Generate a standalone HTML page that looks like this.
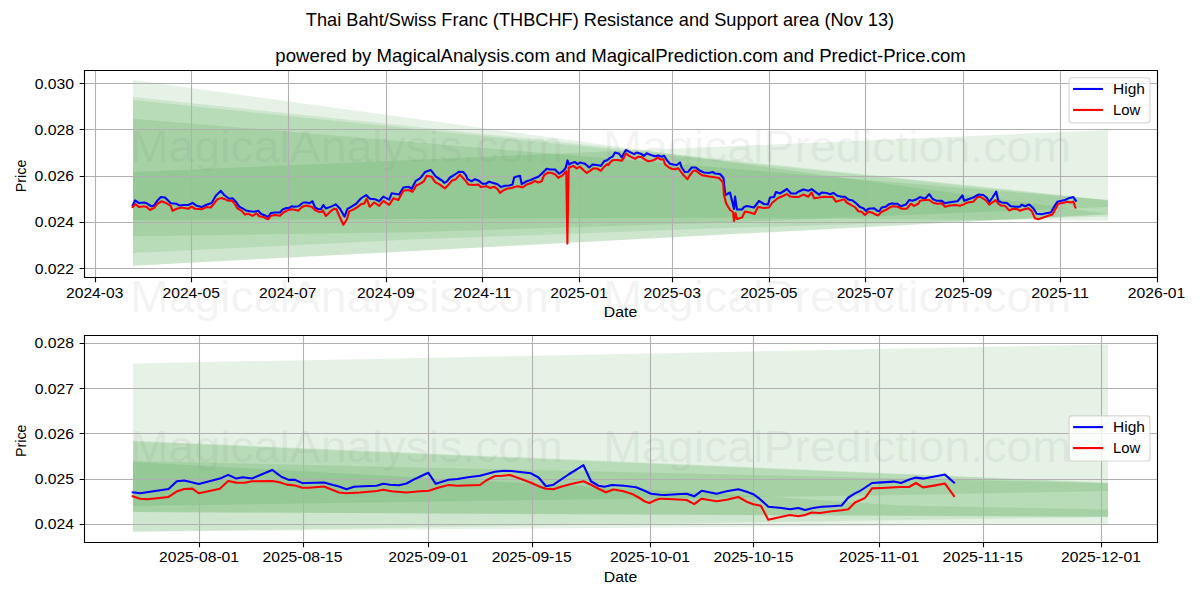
<!DOCTYPE html>
<html><head><meta charset="utf-8"><title>THBCHF Resistance and Support</title><style>html,body{margin:0;padding:0;background:#fff;overflow:hidden}svg{display:block}</style></head><body>
<svg width="1200" height="600" viewBox="0 0 1200 600">
<rect width="1200" height="600" fill="#ffffff"/>
<g font-family="&quot;Liberation Sans&quot;, sans-serif" fill="#000">
<text x="305.88" y="26.00" font-size="17.58" textLength="588.25" lengthAdjust="spacingAndGlyphs">Thai Baht/Swiss Franc (THBCHF) Resistance and Support area (Nov 13)</text>
<text x="275.39" y="62.00" font-size="17.58" textLength="690.38" lengthAdjust="spacingAndGlyphs">powered by MagicalAnalysis.com and MagicalPrediction.com and Predict-Price.com</text>
</g>
<clipPath id="c0"><rect x="83.78" y="70.33" width="1073.61" height="206.56"/></clipPath>
<g clip-path="url(#c0)">
<path d="M133.00,80.00 L1108.00,214.00 L1108.00,214.00 L133.00,265.80Z" fill="#008000" fill-opacity="0.1"/>
<path d="M133.00,97.00 L1108.00,200.00 L1108.00,214.50 L133.00,265.80Z" fill="#008000" fill-opacity="0.1"/>
<path d="M133.00,100.00 L1108.00,200.50 L1108.00,216.50 L710.00,228.50 L410.00,239.60 L133.00,253.00Z" fill="#008000" fill-opacity="0.1"/>
<path d="M133.00,118.75 L1108.00,200.00 L1108.00,207.00 L710.00,223.00 L410.00,232.20 L133.00,236.30Z" fill="#008000" fill-opacity="0.1"/>
<path d="M133.00,172.00 L1108.00,130.00 L1108.00,220.50 L710.00,217.80 L133.00,220.00Z" fill="#008000" fill-opacity="0.1"/>
</g>
<path d="M95.5,70.33V276.89 M191.5,70.33V276.89 M288.5,70.33V276.89 M386.5,70.33V276.89 M482.5,70.33V276.89 M579.5,70.33V276.89 M672.5,70.33V276.89 M769.5,70.33V276.89 M865.5,70.33V276.89 M963.5,70.33V276.89 M1060.5,70.33V276.89 M1157.5,70.33V276.89 M83.78,268.5H1157.39 M83.78,222.5H1157.39 M83.78,176.5H1157.39 M83.78,129.5H1157.39 M83.78,83.5H1157.39" stroke="#b0b0b0" stroke-width="1.111" fill="none"/>
<g clip-path="url(#c0)" fill="none" stroke-width="2.083" stroke-linejoin="round" stroke-linecap="square">
<path d="M132.70,205.42 L135.00,200.42 L138.75,202.92 L144.17,202.50 L146.67,203.33 L151.25,206.25 L154.17,205.42 L157.50,200.42 L160.83,197.08 L165.00,197.50 L170.83,203.33 L176.25,203.75 L179.17,205.42 L183.33,205.00 L188.33,205.00 L192.50,202.92 L196.67,205.83 L201.67,207.08 L205.83,205.00 L211.67,202.92 L215.83,195.83 L220.83,190.83 L224.17,195.00 L229.17,198.75 L232.50,198.33 L235.83,201.67 L239.17,206.67 L242.50,208.33 L245.83,210.42 L250.00,211.25 L254.17,211.67 L258.33,210.83 L260.83,213.75 L265.00,215.42 L268.33,217.08 L270.83,212.92 L275.00,212.50 L280.00,212.50 L282.50,209.58 L286.67,207.92 L289.17,207.92 L291.67,206.25 L294.17,206.67 L298.33,206.25 L303.33,202.50 L306.67,202.50 L309.17,203.33 L312.50,201.25 L315.00,207.50 L318.33,209.17 L320.83,209.17 L323.33,205.00 L325.83,208.42 L331.67,206.38 L335.75,204.33 L339.84,208.42 L344.50,216.59 L347.42,209.00 L351.51,206.67 L356.17,203.75 L360.84,198.50 L366.09,195.00 L370.00,198.75 L375.00,199.17 L379.17,201.25 L383.33,196.67 L389.17,199.58 L391.67,193.33 L399.17,194.58 L403.33,187.50 L408.33,186.67 L411.67,188.75 L415.83,180.83 L420.00,178.33 L420.83,177.50 L425.00,172.08 L430.83,170.00 L435.83,176.67 L439.17,178.75 L442.50,180.83 L444.17,182.92 L446.67,181.67 L450.00,177.50 L454.17,175.00 L459.17,171.67 L463.33,172.08 L465.83,175.00 L467.50,179.17 L471.67,181.25 L475.00,179.17 L478.33,180.42 L482.50,183.75 L485.83,183.75 L489.17,181.67 L493.33,182.92 L497.50,184.17 L500.83,187.08 L505.00,185.83 L509.17,185.42 L512.50,184.58 L514.17,177.50 L515.00,177.08 L520.00,175.83 L521.67,184.17 L526.67,181.25 L530.83,180.00 L535.00,177.92 L538.33,176.67 L541.67,173.75 L546.67,168.75 L550.00,169.58 L555.00,169.58 L559.17,173.75 L563.33,170.83 L565.83,167.50 L567.50,160.42 L569.17,164.58 L571.67,162.92 L575.00,162.08 L577.50,164.17 L580.00,162.50 L585.00,163.75 L589.17,167.50 L592.50,164.58 L596.67,165.00 L600.83,165.83 L604.17,161.25 L607.50,160.00 L610.00,157.92 L612.50,156.67 L615.00,152.50 L619.17,153.75 L621.67,157.50 L625.83,150.00 L630.00,152.08 L634.17,154.17 L636.67,152.50 L640.83,153.75 L644.17,155.83 L646.67,153.33 L650.83,155.00 L655.00,156.25 L658.33,155.42 L661.67,156.67 L664.17,155.83 L666.67,160.00 L670.00,163.75 L673.33,164.58 L676.67,165.00 L680.00,162.50 L681.67,167.50 L685.00,172.08 L688.33,171.67 L691.67,167.50 L695.83,167.50 L700.00,170.83 L704.00,172.50 L709.00,173.00 L712.50,172.00 L715.00,173.50 L720.00,174.00 L723.50,178.00 L724.50,188.00 L725.50,195.00 L730.00,192.50 L734.00,209.00 L735.00,196.50 L737.00,209.50 L742.00,209.50 L744.00,207.00 L747.00,206.00 L754.00,207.50 L759.00,201.00 L764.00,204.00 L768.00,204.50 L770.00,197.50 L774.00,197.00 L776.00,192.00 L780.00,193.50 L787.00,189.00 L791.00,193.50 L796.00,193.50 L798.33,191.67 L803.33,189.58 L808.33,190.83 L811.67,189.17 L815.00,191.67 L819.17,194.58 L821.67,192.50 L826.67,192.92 L830.00,194.17 L833.33,192.92 L837.50,195.83 L841.67,196.67 L845.00,196.67 L848.33,199.58 L852.50,200.42 L856.67,203.75 L860.00,207.08 L863.33,208.33 L865.83,210.83 L868.33,208.75 L874.17,208.33 L877.50,210.83 L879.17,211.25 L881.67,207.50 L885.83,206.67 L889.17,204.17 L892.50,203.33 L893.33,203.75 L897.50,203.75 L900.83,206.25 L905.83,204.58 L909.17,200.00 L912.50,200.83 L916.67,199.17 L920.00,197.08 L925.00,198.75 L929.17,194.17 L932.50,198.75 L936.67,200.83 L941.67,200.83 L945.00,203.33 L948.33,202.50 L953.33,201.67 L957.50,201.25 L962.50,195.42 L964.17,200.83 L968.33,199.17 L973.33,197.50 L978.33,194.58 L983.33,195.00 L986.67,197.50 L989.17,202.08 L992.50,197.50 L996.25,191.67 L998.33,200.83 L1001.67,202.50 L1006.67,202.92 L1010.83,206.25 L1015.83,206.67 L1020.00,206.67 L1021.67,204.58 L1025.00,206.25 L1029.17,204.58 L1033.33,208.33 L1036.67,213.75 L1041.67,214.17 L1045.83,213.33 L1050.83,212.50 L1054.17,206.67 L1057.50,201.67 L1061.67,200.83 L1065.00,200.00 L1068.33,198.33 L1073.33,197.08 L1075.83,200.83" stroke="#0000ff"/>
<path d="M132.70,207.08 L135.42,204.17 L139.17,207.08 L144.17,206.25 L146.67,207.08 L150.00,210.00 L154.17,207.92 L157.50,203.75 L161.67,201.25 L165.83,202.92 L170.83,205.83 L172.50,210.83 L176.67,208.75 L181.67,207.50 L188.33,208.75 L191.67,206.67 L195.00,208.75 L201.67,209.17 L206.67,207.08 L210.83,207.50 L217.50,199.17 L221.67,197.92 L225.00,199.17 L228.33,200.83 L231.67,200.42 L234.17,202.92 L237.50,208.33 L241.67,210.83 L245.00,214.58 L248.33,213.75 L252.50,215.83 L256.67,213.33 L259.17,216.25 L263.33,217.08 L266.67,218.75 L268.33,219.17 L270.83,215.83 L275.00,215.00 L280.00,215.83 L283.33,212.50 L288.33,210.00 L291.67,209.17 L295.83,210.00 L298.33,210.83 L301.67,207.08 L305.83,205.42 L309.17,206.25 L311.67,206.67 L315.00,210.00 L318.33,211.67 L321.67,212.08 L322.92,210.46 L325.83,216.00 L329.92,211.92 L334.00,208.71 L336.34,209.00 L339.25,216.00 L343.34,224.75 L346.84,219.50 L349.17,211.34 L353.26,209.59 L357.34,207.25 L360.84,204.33 L364.34,203.46 L366.67,198.50 L369.59,206.67 L370.00,206.67 L374.17,202.50 L379.17,205.83 L383.33,200.83 L389.17,205.00 L393.33,198.33 L398.33,200.00 L403.33,190.83 L408.33,190.00 L412.50,191.67 L416.67,185.00 L417.50,185.00 L421.67,182.92 L424.17,180.83 L426.67,175.83 L431.67,176.67 L435.00,182.08 L439.17,184.17 L442.50,186.67 L445.00,188.33 L448.33,185.00 L451.67,180.83 L455.83,179.17 L460.00,174.58 L463.33,178.33 L466.67,182.08 L468.33,184.58 L473.33,185.00 L478.33,184.58 L480.83,187.08 L486.67,186.25 L490.00,187.92 L494.17,186.67 L497.50,189.17 L500.00,192.92 L503.33,190.42 L506.67,188.75 L511.67,187.92 L515.00,186.67 L518.33,186.25 L522.50,187.50 L526.67,184.58 L530.83,183.33 L535.00,180.83 L538.33,182.50 L541.67,181.25 L544.17,175.00 L548.33,172.50 L552.50,173.33 L555.00,174.17 L558.33,177.92 L562.50,175.42 L565.42,172.08 L566.25,171.25 L567.40,243.60 L568.67,167.50 L569.58,167.50 L573.33,165.83 L576.67,168.33 L580.00,166.67 L583.33,170.00 L586.67,172.92 L590.00,170.83 L593.33,168.33 L597.50,168.75 L600.83,170.83 L604.17,166.67 L607.50,164.17 L608.33,165.00 L610.83,161.67 L613.33,160.00 L617.50,160.00 L621.67,160.83 L623.33,158.75 L625.83,153.33 L629.17,155.83 L631.67,157.08 L635.00,158.75 L638.33,156.67 L641.67,157.08 L645.00,159.58 L648.33,161.25 L651.67,160.83 L655.00,159.58 L657.50,157.50 L660.83,159.58 L663.33,159.17 L665.00,164.17 L668.33,167.08 L671.67,168.75 L675.00,169.17 L678.33,168.33 L680.83,171.67 L684.17,175.83 L687.50,179.17 L690.00,175.00 L693.33,170.83 L695.83,170.42 L699.17,173.33 L702.50,175.42 L704.00,175.50 L709.00,176.50 L713.00,177.00 L719.00,178.00 L723.00,182.50 L724.00,195.00 L726.00,203.00 L730.00,210.00 L733.00,212.00 L734.00,221.00 L735.50,213.00 L737.00,219.00 L742.00,217.50 L745.00,211.50 L750.00,212.50 L754.50,214.00 L758.00,207.00 L764.00,208.00 L769.00,207.50 L772.00,203.00 L778.00,198.00 L783.00,196.00 L787.00,194.00 L790.00,196.50 L795.00,197.00 L798.33,197.08 L803.33,194.58 L808.33,196.67 L811.67,192.50 L814.17,198.33 L819.17,197.50 L823.33,196.67 L828.33,197.08 L832.50,196.67 L835.83,201.67 L840.00,200.42 L844.17,199.17 L846.67,202.50 L851.67,205.42 L855.00,207.08 L858.33,211.25 L861.67,211.67 L865.00,215.00 L868.33,211.67 L871.67,212.50 L875.00,214.17 L878.33,215.42 L881.67,211.67 L886.67,209.58 L890.83,206.67 L894.17,206.25 L897.50,206.67 L901.67,208.75 L906.67,208.75 L910.83,203.75 L914.17,205.83 L918.33,203.75 L920.00,200.83 L925.00,200.00 L929.17,200.00 L933.33,202.92 L937.50,203.75 L941.67,203.33 L945.00,206.67 L950.00,205.42 L955.00,205.00 L960.00,205.83 L964.17,204.17 L967.50,202.50 L973.33,201.67 L977.50,197.08 L980.83,197.08 L985.00,199.58 L988.33,203.33 L989.17,204.58 L995.83,200.00 L998.33,203.75 L1000.83,205.42 L1005.00,205.83 L1009.17,210.42 L1013.33,208.75 L1017.50,209.17 L1020.00,210.83 L1023.33,209.58 L1028.33,208.33 L1031.67,210.83 L1035.00,218.33 L1038.33,219.17 L1043.33,217.50 L1048.33,215.83 L1052.50,214.58 L1055.83,208.33 L1058.33,203.75 L1062.50,202.92 L1067.50,201.67 L1070.83,202.50 L1073.33,201.67 L1075.42,207.50" stroke="#ff0000"/>
</g>
<path d="M84.5,277.5V70.5M1157.5,277.5V70.5M84.5,70.5H1157.5M84.5,277.5H1157.5" stroke="#000" stroke-width="1.111" stroke-linecap="square" fill="none"/>
<path d="M95.5,277.5v4.86 M191.5,277.5v4.86 M288.5,277.5v4.86 M386.5,277.5v4.86 M482.5,277.5v4.86 M579.5,277.5v4.86 M672.5,277.5v4.86 M769.5,277.5v4.86 M865.5,277.5v4.86 M963.5,277.5v4.86 M1060.5,277.5v4.86 M1157.5,277.5v4.86 M84.5,268.5h-4.86 M84.5,222.5h-4.86 M84.5,176.5h-4.86 M84.5,129.5h-4.86 M84.5,83.5h-4.86" stroke="#000" stroke-width="1.111" fill="none"/>
<g font-family="&quot;Liberation Sans&quot;, sans-serif" fill="#000">
<text x="66.01" y="297.61" font-size="14.65" textLength="57.38" lengthAdjust="spacingAndGlyphs">2024-03</text>
<text x="162.54" y="297.61" font-size="14.65" textLength="57.38" lengthAdjust="spacingAndGlyphs">2024-05</text>
<text x="259.07" y="297.61" font-size="14.65" textLength="57.38" lengthAdjust="spacingAndGlyphs">2024-07</text>
<text x="357.12" y="297.61" font-size="14.65" textLength="57.50" lengthAdjust="spacingAndGlyphs">2024-09</text>
<text x="453.59" y="297.61" font-size="14.65" textLength="57.62" lengthAdjust="spacingAndGlyphs">2024-11</text>
<text x="550.19" y="297.61" font-size="14.65" textLength="57.50" lengthAdjust="spacingAndGlyphs">2025-01</text>
<text x="643.62" y="297.61" font-size="14.65" textLength="57.38" lengthAdjust="spacingAndGlyphs">2025-03</text>
<text x="740.15" y="297.61" font-size="14.65" textLength="57.38" lengthAdjust="spacingAndGlyphs">2025-05</text>
<text x="836.68" y="297.61" font-size="14.65" textLength="57.38" lengthAdjust="spacingAndGlyphs">2025-07</text>
<text x="934.73" y="297.61" font-size="14.65" textLength="57.50" lengthAdjust="spacingAndGlyphs">2025-09</text>
<text x="1031.20" y="297.61" font-size="14.65" textLength="57.62" lengthAdjust="spacingAndGlyphs">2025-11</text>
<text x="1127.73" y="297.61" font-size="14.65" textLength="57.62" lengthAdjust="spacingAndGlyphs">2026-01</text>
<text x="34.68" y="273.59" font-size="14.65" textLength="39.38" lengthAdjust="spacingAndGlyphs">0.022</text>
<text x="34.68" y="227.35" font-size="14.65" textLength="39.38" lengthAdjust="spacingAndGlyphs">0.024</text>
<text x="34.56" y="181.10" font-size="14.65" textLength="39.50" lengthAdjust="spacingAndGlyphs">0.026</text>
<text x="34.56" y="134.85" font-size="14.65" textLength="39.50" lengthAdjust="spacingAndGlyphs">0.028</text>
<text x="34.68" y="88.60" font-size="14.65" textLength="39.38" lengthAdjust="spacingAndGlyphs">0.030</text>
<text x="603.89" y="317.17" font-size="14.65" textLength="33.38" lengthAdjust="spacingAndGlyphs">Date</text>
<text transform="translate(26.00,192.15) rotate(-90)" font-size="14.65" textLength="32.48" lengthAdjust="spacingAndGlyphs">Price</text>
</g>
<rect x="1069.07" y="77.78" width="80.88" height="45.06" rx="2.8" fill="#fff" fill-opacity="0.8" stroke="#cccccc" stroke-opacity="0.8" stroke-width="1.111"/>
<path d="M1074.12,88.97H1101.90" stroke="#0000ff" stroke-width="2.083" stroke-linecap="square"/>
<path d="M1074.12,109.92H1101.90" stroke="#ff0000" stroke-width="2.083" stroke-linecap="square"/>
<g font-family="&quot;Liberation Sans&quot;, sans-serif" fill="#000">
<text x="1113.01" y="93.83" font-size="14.65" textLength="31.88" lengthAdjust="spacingAndGlyphs">High</text>
<text x="1113.01" y="114.78" font-size="14.65" textLength="27.38" lengthAdjust="spacingAndGlyphs">Low</text>
</g>
<clipPath id="c1"><rect x="83.78" y="335.17" width="1073.61" height="206.56"/></clipPath>
<g clip-path="url(#c1)">
<path d="M133.00,363.50 L1108.00,344.50 L1108.00,524.00 L133.00,531.70Z" fill="#008000" fill-opacity="0.1"/>
<path d="M133.00,440.80 L1108.00,482.50 L1108.00,491.00 L900.00,495.00 L133.00,506.00Z" fill="#008000" fill-opacity="0.1"/>
<path d="M133.00,441.60 L1108.00,483.20 L1108.00,517.00 L133.00,531.70Z" fill="#008000" fill-opacity="0.1"/>
<path d="M133.00,462.00 L760.00,496.00 L900.00,505.50 L1108.00,509.50 L1108.00,516.50 L133.00,512.00Z" fill="#008000" fill-opacity="0.1"/>
<path d="M133.00,461.00 L1108.00,483.20 L1108.00,517.00 L133.00,512.00Z" fill="#008000" fill-opacity="0.1"/>
</g>
<path d="M199.5,335.17V541.72 M303.5,335.17V541.72 M428.5,335.17V541.72 M532.5,335.17V541.72 M650.5,335.17V541.72 M753.5,335.17V541.72 M879.5,335.17V541.72 M983.5,335.17V541.72 M1101.5,335.17V541.72 M83.78,524.5H1157.39 M83.78,479.5H1157.39 M83.78,433.5H1157.39 M83.78,388.5H1157.39 M83.78,343.5H1157.39" stroke="#b0b0b0" stroke-width="1.111" fill="none"/>
<g clip-path="url(#c1)" fill="none" stroke-width="2.083" stroke-linejoin="round" stroke-linecap="square">
<path d="M132.70,492.33 L140.16,493.24 L168.58,489.03 L176.83,481.33 L184.16,480.41 L198.83,484.08 L219.91,478.58 L228.16,474.91 L236.41,478.58 L242.82,477.30 L251.99,478.58 L272.15,469.96 L281.32,476.75 L288.65,479.86 L295.07,479.86 L302.40,483.16 L306.00,483.05 L324.00,482.45 L333.00,485.00 L339.00,486.50 L346.50,489.20 L354.00,486.80 L363.00,486.20 L376.50,485.75 L383.25,483.80 L390.00,484.70 L399.00,485.30 L406.49,483.50 L415.49,478.70 L428.24,472.70 L435.74,483.80 L448.49,479.75 L457.49,479.00 L467.99,477.20 L480.00,475.70 L487.50,473.75 L495.00,471.80 L504.00,470.75 L511.50,471.05 L522.00,472.25 L531.00,473.30 L538.50,477.50 L546.00,486.20 L553.50,484.70 L568.50,474.50 L583.49,465.20 L590.99,481.25 L598.49,485.75 L604.49,486.80 L611.99,485.00 L623.99,485.75 L635.99,487.25 L643.49,490.25 L650.99,493.70 L659.99,494.75 L665.00,495.00 L676.67,494.17 L686.67,493.67 L694.17,496.33 L701.67,490.83 L716.67,493.83 L726.67,491.33 L738.33,489.17 L746.67,491.67 L753.33,494.17 L760.00,499.17 L768.33,506.67 L781.67,508.00 L790.00,509.17 L798.33,508.00 L805.00,510.00 L813.33,508.00 L821.67,506.67 L831.67,506.17 L841.67,505.50 L848.33,497.50 L855.00,493.33 L860.00,491.00 L872.00,483.00 L882.00,482.40 L894.00,481.60 L901.00,483.00 L910.00,479.20 L916.00,477.60 L924.00,478.60 L932.00,477.00 L945.00,474.60 L954.00,482.60" stroke="#0000ff"/>
<path d="M132.70,496.36 L140.16,498.74 L147.50,499.29 L168.58,496.91 L176.83,491.41 L184.16,489.03 L192.41,488.66 L198.83,493.24 L219.91,488.66 L228.16,480.96 L236.41,482.61 L244.66,482.80 L251.99,481.33 L272.15,480.96 L279.49,482.25 L286.82,484.63 L295.07,485.55 L302.40,487.75 L309.00,487.70 L324.00,486.50 L331.50,489.50 L339.00,492.50 L346.50,493.25 L360.00,492.50 L376.50,491.00 L383.25,489.80 L391.50,491.30 L406.49,492.50 L419.99,491.30 L428.99,490.70 L437.99,487.70 L448.49,485.00 L457.49,485.75 L480.00,485.00 L486.00,480.50 L495.00,476.00 L502.50,475.70 L510.00,474.95 L519.00,478.25 L531.00,482.75 L540.00,486.80 L546.00,488.75 L553.50,489.20 L561.00,486.80 L570.00,484.25 L583.49,481.25 L590.99,484.70 L598.49,488.75 L605.99,492.20 L613.49,489.50 L622.49,491.00 L632.99,494.30 L638.99,497.75 L644.99,501.50 L649.49,503.00 L655.49,500.00 L659.99,498.80 L661.67,498.67 L673.33,499.17 L686.67,500.00 L694.17,504.17 L701.67,498.67 L716.67,501.33 L726.67,499.67 L738.33,497.00 L746.67,501.67 L753.33,504.17 L760.83,505.83 L768.33,519.67 L781.67,516.67 L790.00,515.00 L798.33,516.33 L805.00,515.00 L811.67,512.50 L820.00,513.00 L831.67,511.33 L841.67,510.33 L848.33,509.17 L855.00,502.50 L865.00,498.00 L872.00,488.40 L882.00,488.00 L900.00,487.00 L909.00,487.00 L916.00,483.00 L923.00,487.40 L934.00,485.60 L945.00,483.60 L954.00,496.00" stroke="#ff0000"/>
</g>
<path d="M84.5,542.5V335.5M1157.5,542.5V335.5M84.5,335.5H1157.5M84.5,542.5H1157.5" stroke="#000" stroke-width="1.111" stroke-linecap="square" fill="none"/>
<path d="M199.5,542.5v4.86 M303.5,542.5v4.86 M428.5,542.5v4.86 M532.5,542.5v4.86 M650.5,542.5v4.86 M753.5,542.5v4.86 M879.5,542.5v4.86 M983.5,542.5v4.86 M1101.5,542.5v4.86 M84.5,524.5h-4.86 M84.5,479.5h-4.86 M84.5,433.5h-4.86 M84.5,388.5h-4.86 M84.5,343.5h-4.86" stroke="#000" stroke-width="1.111" fill="none"/>
<g font-family="&quot;Liberation Sans&quot;, sans-serif" fill="#000">
<text x="158.99" y="562.44" font-size="14.65" textLength="80.00" lengthAdjust="spacingAndGlyphs">2025-08-01</text>
<text x="262.50" y="562.44" font-size="14.65" textLength="80.00" lengthAdjust="spacingAndGlyphs">2025-08-15</text>
<text x="388.19" y="562.44" font-size="14.65" textLength="80.00" lengthAdjust="spacingAndGlyphs">2025-09-01</text>
<text x="491.69" y="562.44" font-size="14.65" textLength="80.00" lengthAdjust="spacingAndGlyphs">2025-09-15</text>
<text x="609.98" y="562.44" font-size="14.65" textLength="80.00" lengthAdjust="spacingAndGlyphs">2025-10-01</text>
<text x="713.49" y="562.44" font-size="14.65" textLength="80.00" lengthAdjust="spacingAndGlyphs">2025-10-15</text>
<text x="839.11" y="562.44" font-size="14.65" textLength="80.12" lengthAdjust="spacingAndGlyphs">2025-11-01</text>
<text x="942.62" y="562.44" font-size="14.65" textLength="80.12" lengthAdjust="spacingAndGlyphs">2025-11-15</text>
<text x="1060.97" y="562.44" font-size="14.65" textLength="80.00" lengthAdjust="spacingAndGlyphs">2025-12-01</text>
<text x="34.68" y="529.25" font-size="14.65" textLength="39.38" lengthAdjust="spacingAndGlyphs">0.024</text>
<text x="34.68" y="484.00" font-size="14.65" textLength="39.38" lengthAdjust="spacingAndGlyphs">0.025</text>
<text x="34.56" y="438.75" font-size="14.65" textLength="39.50" lengthAdjust="spacingAndGlyphs">0.026</text>
<text x="34.68" y="393.50" font-size="14.65" textLength="39.38" lengthAdjust="spacingAndGlyphs">0.027</text>
<text x="34.56" y="348.25" font-size="14.65" textLength="39.50" lengthAdjust="spacingAndGlyphs">0.028</text>
<text x="603.89" y="582.00" font-size="14.65" textLength="33.38" lengthAdjust="spacingAndGlyphs">Date</text>
<text transform="translate(26.00,456.98) rotate(-90)" font-size="14.65" textLength="32.48" lengthAdjust="spacingAndGlyphs">Price</text>
</g>
<rect x="1069.07" y="415.92" width="80.88" height="45.06" rx="2.8" fill="#fff" fill-opacity="0.8" stroke="#cccccc" stroke-opacity="0.8" stroke-width="1.111"/>
<path d="M1074.12,427.11H1101.90" stroke="#0000ff" stroke-width="2.083" stroke-linecap="square"/>
<path d="M1074.12,448.06H1101.90" stroke="#ff0000" stroke-width="2.083" stroke-linecap="square"/>
<g font-family="&quot;Liberation Sans&quot;, sans-serif" fill="#000">
<text x="1113.01" y="431.97" font-size="14.65" textLength="31.88" lengthAdjust="spacingAndGlyphs">High</text>
<text x="1113.01" y="452.92" font-size="14.65" textLength="27.38" lengthAdjust="spacingAndGlyphs">Low</text>
</g>
<g font-family="&quot;Liberation Sans&quot;, sans-serif" font-size="43.96" fill="#808080" fill-opacity="0.1">
<text x="130.00" y="161.50" textLength="432.75" lengthAdjust="spacingAndGlyphs">MagicalAnalysis.com</text>
<text x="603.20" y="161.50" textLength="467.88" lengthAdjust="spacingAndGlyphs">MagicalPrediction.com</text>
<text x="130.00" y="311.60" textLength="432.75" lengthAdjust="spacingAndGlyphs">MagicalAnalysis.com</text>
<text x="603.20" y="311.60" textLength="467.88" lengthAdjust="spacingAndGlyphs">MagicalPrediction.com</text>
<text x="130.00" y="461.70" textLength="432.75" lengthAdjust="spacingAndGlyphs">MagicalAnalysis.com</text>
<text x="603.20" y="461.70" textLength="467.88" lengthAdjust="spacingAndGlyphs">MagicalPrediction.com</text>
</g>
</svg>
</body></html>
